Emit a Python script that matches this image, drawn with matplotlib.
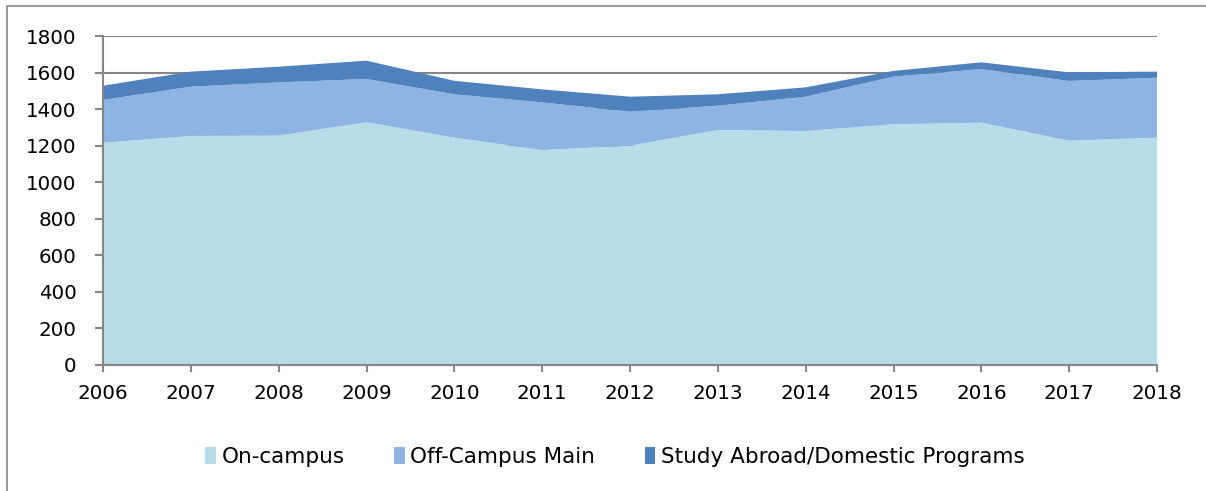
import matplotlib
matplotlib.use("Agg")
import matplotlib.pyplot as plt
from matplotlib.patches import Rectangle, Patch

years = [2006, 2007, 2008, 2009, 2010, 2011, 2012, 2013, 2014, 2015, 2016, 2017, 2018]
on_campus = [1216, 1253, 1255, 1328, 1244, 1176, 1200, 1286, 1280, 1317, 1326, 1227, 1244]
off_campus = [234, 270, 291, 237, 237, 261, 186, 133, 188, 261, 293, 327, 328]
study_abroad = [78, 82, 86, 100, 74, 71, 82, 62, 51, 31, 37, 47, 33]
labels = ["On-campus", "Off-Campus Main", "Study Abroad/Domestic Programs"]
colors = ["#B7DDE8", "#8EB4E3", "#4F81BD"]
yticks = [0, 200, 400, 600, 800, 1000, 1200, 1400, 1600, 1800]

plt.rcParams['font.family'] = ['DejaVu Sans']
fig = plt.figure(figsize=(12.06, 4.91), dpi=100)
ax = fig.add_axes([103/1206, 1-365/491, (1157-103)/1206, (365-36)/491])

ax.stackplot(years, on_campus, off_campus, study_abroad, colors=colors, labels=labels,
             linewidth=0, zorder=2)
ax.set_xlim(2006, 2018)
ax.set_ylim(0, 1800)
ax.set_yticks(yticks)
ax.set_xticks(years)
ax.set_xticklabels([str(y) for y in years])
ax.set_axisbelow(True)
ax.yaxis.grid(True, color="#868686", linewidth=1.5)
for s in ["top", "right"]:
    ax.spines[s].set_visible(False)
for s in ["left", "bottom"]:
    ax.spines[s].set_color("#868686")
    ax.spines[s].set_linewidth(1.5)
    ax.spines[s].set_zorder(3)
ax.tick_params(axis="both", direction="out", color="#868686", width=1.5, labelsize=14.3)
ax.tick_params(axis="y", length=6, pad=13)
ax.tick_params(axis="x", length=5, pad=9)

handles = [Patch(facecolor=c, edgecolor="none") for c in colors]
fig.legend(handles, labels, loc="center", bbox_to_anchor=(615/1206, 1-457/491), ncol=3,
           frameon=False, fontsize=15.5, handlelength=0.5, handleheight=0.8,
           handletextpad=0.25, columnspacing=2.3)

fig.patches.append(Rectangle((7/1206, -0.1), 1.2, 1.1 - 6/491, transform=fig.transFigure,
                             fill=False, edgecolor="#868686", linewidth=1.2))

fig.savefig("out.png", dpi=100)
